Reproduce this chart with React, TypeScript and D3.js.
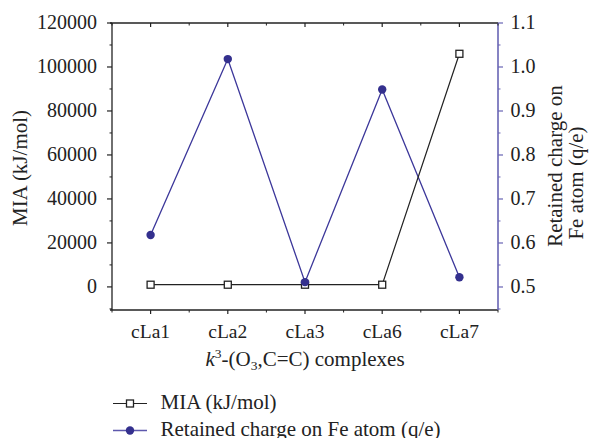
import React from 'react';
import * as d3 from 'd3';

const categories = ['cLa1', 'cLa2', 'cLa3', 'cLa6', 'cLa7'];
const miaValues = [1000, 1000, 1000, 1000, 106000];
const chargeValues = [0.618, 1.018, 0.511, 0.949, 0.522];
const leftTicks = [0, 20000, 40000, 60000, 80000, 100000, 120000];
const rightTicks = [0.5, 0.6, 0.7, 0.8, 0.9, 1.0, 1.1];

const W = 590;
const H = 438;
const left = 112;
const right = 498;
const top = 23;
const bottom = 310;
const font = '"Liberation Serif", "DejaVu Serif", serif';
const blue = '#34308e';
const axisBlue = '#6864b4';
const ink = '#222';

const App = () => {
    const x = d3.scalePoint<string>().domain(categories).range([left, right]).padding(0.5);
    const step = x.step();
    const yL = d3.scaleLinear().domain([-10500, 120000]).range([bottom, top]);
    const yR = d3.scaleLinear().domain([0.4477, 1.1]).range([bottom, top]);

    const miaLine = d3.line<number>().x((d, i) => x(categories[i])!).y((d) => yL(d));
    const chargeLine = d3.line<number>().x((d, i) => x(categories[i])!).y((d) => yR(d));

    const minorL = d3.range(-10000, 120001, 10000).filter((v) => v % 20000 !== 0);
    const minorR = d3.range(0.45, 1.1, 0.1).map((v) => +v.toFixed(2));
    const xMinor = categories.map((c) => x(c)! + step / 2).concat([x(categories[0])! - step / 2]);

    return (
        <svg width={W} height={H} style={{ position: 'absolute', left: 0, top: 0 }}>
            {/* frame */}
            <line x1={left - 2} x2={right} y1={top} y2={top} stroke={ink} strokeWidth={1.3} />
            <line x1={left - 2} x2={right} y1={bottom} y2={bottom} stroke={ink} strokeWidth={1.3} />
            <line x1={left} x2={left} y1={top} y2={bottom} stroke={ink} strokeWidth={1.3} />
            <line x1={right} x2={right} y1={top} y2={bottom} stroke={axisBlue} strokeWidth={1.6} />

            {/* x ticks */}
            {categories.map((c) => (
                <g key={c}>
                    <line x1={x(c)} x2={x(c)} y1={bottom} y2={bottom + 4} stroke={ink} strokeWidth={1.2} />
                    <line x1={x(c)} x2={x(c)} y1={top} y2={top + 4} stroke={ink} strokeWidth={1.2} />
                    <text x={x(c)} y={bottom + 28} textAnchor="middle" fontFamily={font} fontSize={19.5} fill={ink}>{c}</text>
                </g>
            ))}
            {xMinor.map((v, i) => (
                <g key={'xm' + i}>
                    <line x1={v} x2={v} y1={bottom} y2={bottom + 2.5} stroke={ink} strokeWidth={1} />
                    <line x1={v} x2={v} y1={top} y2={top + 2.5} stroke={ink} strokeWidth={1} />
                </g>
            ))}

            {/* left axis */}
            {leftTicks.map((t) => (
                <g key={t}>
                    <line x1={left - 5} x2={left} y1={yL(t)} y2={yL(t)} stroke={ink} strokeWidth={1.2} />
                    <text x={97} y={yL(t) + 6} textAnchor="end" fontFamily={font} fontSize={20} fill={ink}>{t}</text>
                </g>
            ))}
            {minorL.map((t) => (
                <line key={'lm' + t} x1={left - 2.5} x2={left} y1={yL(t)} y2={yL(t)} stroke={ink} strokeWidth={1} />
            ))}

            {/* right axis */}
            {rightTicks.map((t) => (
                <g key={t}>
                    <line x1={right} x2={right + 5} y1={yR(t)} y2={yR(t)} stroke={axisBlue} strokeWidth={1.2} />
                    <text x={510.5} y={yR(t) + 6} fontFamily={font} fontSize={20} fill={ink}>{t.toFixed(1)}</text>
                </g>
            ))}
            {minorR.map((t) => (
                <line key={'rm' + t} x1={right} x2={right + 2.5} y1={yR(t)} y2={yR(t)} stroke={axisBlue} strokeWidth={1} />
            ))}

            {/* axis titles */}
            <text transform={`translate(27,168) rotate(-90)`} textAnchor="middle" fontFamily={font} fontSize={21} fill={ink}>MIA (kJ/mol)</text>
            <text transform={`translate(562,166) rotate(-90)`} textAnchor="middle" fontFamily={font} fontSize={21} fill={ink}>Retained charge on</text>
            <text transform={`translate(583,183) rotate(-90)`} textAnchor="middle" fontFamily={font} fontSize={21} fill={ink}>Fe atom (q/e)</text>
            <text x={(left + right) / 2} y={366} textAnchor="middle" fontFamily={font} fontSize={21} fill={ink}>
                <tspan fontStyle="italic">k</tspan>
                <tspan dy={-8} fontSize={13.5}>3</tspan>
                <tspan dy={8}>-(O</tspan>
                <tspan dy={4} fontSize={13.5}>3</tspan>
                <tspan dy={-4}>,C=C) complexes</tspan>
            </text>

            {/* series */}
            <path d={chargeLine(chargeValues)!} fill="none" stroke="#3c379a" strokeWidth={1.3} />
            <path d={miaLine(miaValues)!} fill="none" stroke={ink} strokeWidth={1.2} />
            {miaValues.map((v, i) => (
                <rect key={'m' + i} x={x(categories[i])! - 3.5} y={yL(v) - 3.5} width={7} height={7} fill="#fff" stroke={ink} strokeWidth={1.3} />
            ))}
            {chargeValues.map((v, i) => (
                <circle key={'c' + i} cx={x(categories[i])} cy={yR(v)} r={4.2} fill={blue} />
            ))}

            {/* legend */}
            <line x1={113} x2={147} y1={403.5} y2={403.5} stroke={ink} strokeWidth={1.2} />
            <rect x={126.5} y={400} width={7} height={7} fill="#fff" stroke={ink} strokeWidth={1.3} />
            <text x={160.5} y={408.5} fontFamily={font} fontSize={21} fill={ink}>MIA (kJ/mol)</text>
            <line x1={113} x2={147} y1={430.5} y2={430.5} stroke="#5d58ad" strokeWidth={1.4} />
            <circle cx={130} cy={430.5} r={4.2} fill={blue} />
            <text x={160.5} y={435.5} fontFamily={font} fontSize={21} fill={ink}>Retained charge on Fe atom (q/e)</text>
        </svg>
    );
};

export default App;
